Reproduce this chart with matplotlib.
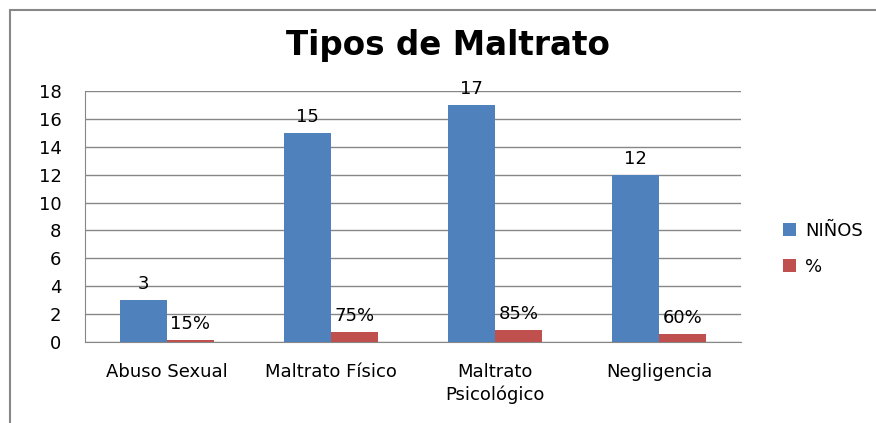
import matplotlib.pyplot as plt
from matplotlib.patches import Rectangle
import numpy as np

plt.rcParams['font.family'] = ['DejaVu Sans']

categorias = ['Abuso Sexual', 'Maltrato Físico', 'Maltrato\nPsicológico', 'Negligencia']
ninos = [3, 15, 17, 12]
porcentaje = [0.15, 0.75, 0.85, 0.60]
etiquetas_pct = ['15%', '75%', '85%', '60%']
yticks = list(range(0, 19, 2))

azul = '#4F81BD'
rojo = '#C0504D'
gris = '#878787'

fig = plt.figure(figsize=(8.76, 4.23), dpi=100)
# chart frame (only top and left edges visible in the crop)
fig.patches.append(Rectangle((10 / 876, -0.1), 1.2, (423 - 10) / 423 + 0.1,
                             transform=fig.transFigure, fill=False,
                             edgecolor=gris, linewidth=1.5))
ax = fig.add_axes([85 / 876, 81 / 423, 656 / 876, 251 / 423])

x = np.arange(len(categorias))
w = 0.286
b1 = ax.bar(x - w / 2, ninos, w, color=azul, label='NIÑOS', zorder=3)
b2 = ax.bar(x + w / 2, porcentaje, w, color=rojo, label='%', zorder=3)

for rect, v in zip(b1, ninos):
    ax.annotate(str(v), (rect.get_x() + rect.get_width() / 2, rect.get_height()),
                xytext=(0, 5), textcoords='offset points', ha='center', va='bottom',
                fontsize=13, zorder=4)
for rect, t in zip(b2, etiquetas_pct):
    ax.annotate(t, (rect.get_x() + rect.get_width() / 2, rect.get_height()),
                xytext=(0, 5), textcoords='offset points', ha='center', va='bottom',
                fontsize=13, zorder=4)

ax.set_xlim(-0.5, len(categorias) - 0.5)
ax.set_ylim(0, 18)
ax.set_yticks(yticks)
ax.set_xticks(x)
ax.set_xticklabels(categorias, fontsize=13, linespacing=1.35)
ax.tick_params(axis='y', length=0, pad=17, labelsize=13)
ax.tick_params(axis='x', length=0, pad=15)
ax.yaxis.grid(True, color=gris, linewidth=1, zorder=0)
for s in ['top', 'right']:
    ax.spines[s].set_visible(False)
ax.spines['left'].set_color(gris)
ax.spines['bottom'].set_color(gris)

fig.text(448 / 876, 1 - 46 / 423, 'Tipos de Maltrato', ha='center', va='center',
         fontsize=23.5, fontweight='bold')

fig.legend(handles=[b1, b2], labels=['NIÑOS', '%'], loc='center left',
           bbox_to_anchor=(767 / 876, 1 - 249 / 423), frameon=False, fontsize=13,
           handlelength=0.7, handleheight=0.7, handletextpad=0.5, labelspacing=1.0)

fig.savefig('out.png', dpi=100)
